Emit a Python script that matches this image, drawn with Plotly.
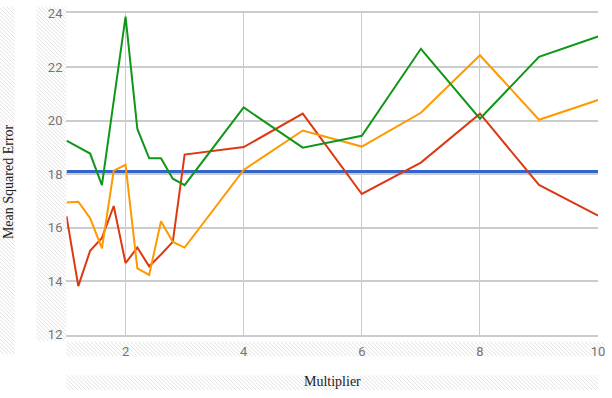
import plotly.graph_objects as go

# multiplier values (shared by most series)
multiplier = [1, 1.2, 1.4, 1.6, 1.8, 2, 2.2, 2.4, 2.6, 2.8, 3, 4, 5, 6, 7, 8, 9, 10]
green_multiplier = [1, 1.4, 1.6, 2, 2.2, 2.4, 2.6, 2.8, 3, 4, 5, 6, 7, 8, 9, 10]

baseline = [18.1, 18.1, 18.1, 18.1, 18.1, 18.1, 18.1, 18.1, 18.1,
            18.1, 18.1, 18.1, 18.1, 18.1, 18.1, 18.1, 18.1, 18.1]
red = [16.43, 13.82, 15.14, 15.62, 16.81, 14.68, 15.26, 14.56, 15.0,
       15.47, 18.73, 19.01, 20.26, 17.26, 18.43, 20.26, 17.6, 16.45]
orange = [16.94, 16.97, 16.36, 15.23, 18.13, 18.35, 14.48, 14.24, 16.24,
          15.47, 15.26, 18.16, 19.63, 19.03, 20.29, 22.44, 20.03, 20.77]
green = [19.25, 18.77, 17.59, 23.88, 19.69, 18.59, 18.59, 17.83, 17.59,
         20.49, 18.99, 19.43, 22.68, 20.07, 22.38, 23.14]

x_ticks = [2, 4, 6, 8, 10]
y_ticks = [12, 14, 16, 18, 20, 22, 24]

W, H = 612, 398


def hatch(x0, y0, x1, y1, step=4):
    # diagonal hatching inside a pixel rectangle, returned as a paper path
    parts = []
    c = x0 - y1
    while c <= x1 - y0:
        lo = max(y0, x0 - c)
        hi = min(y1, x1 - c)
        if lo < hi:
            parts.append(
                f"M{(lo + c) / W:.4f},{1 - lo / H:.4f}L{(hi + c) / W:.4f},{1 - hi / H:.4f}"
            )
        c += step
    return dict(
        type="path",
        xref="paper",
        yref="paper",
        path="".join(parts),
        line=dict(color="#e2e2e2", width=1),
        layer="below",
    )


fig = go.Figure()
fig.add_trace(go.Scatter(x=multiplier, y=baseline, mode="lines",
                         line=dict(color="#3366cc", width=3)))
fig.add_trace(go.Scatter(x=multiplier, y=red, mode="lines",
                         line=dict(color="#dc3912", width=2)))
fig.add_trace(go.Scatter(x=multiplier, y=orange, mode="lines",
                         line=dict(color="#ff9900", width=2)))
fig.add_trace(go.Scatter(x=green_multiplier, y=green, mode="lines",
                         line=dict(color="#109618", width=2)))

shapes = [
    hatch(0, 0, 15, 361),
    hatch(37, 0, 67, 347),
    hatch(67, 348, 612, 363),
    hatch(67, 383, 605, 398),
]

fig.update_layout(
    width=W,
    height=H,
    margin=dict(l=0, r=0, t=0, b=0),
    paper_bgcolor="white",
    plot_bgcolor="white",
    showlegend=False,
    shapes=shapes,
    xaxis=dict(
        domain=[67.25 / W, 605 / W],
        range=[1, 10],
        tickvals=x_ticks,
        showgrid=True,
        gridcolor="#cccccc",
        gridwidth=1,
        showline=True,
        mirror=True,
        linecolor="#cccccc",
        linewidth=2,
        zeroline=False,
        ticks="",
        ticklabelstandoff=4,
        ticklabeloverflow="allow",
        tickfont=dict(family="Roboto", size=13, color="#757575"),
    ),
    yaxis=dict(
        domain=[1 - 340.7 / H, 1 - 6.7 / H],
        range=[12, 24],
        tickvals=y_ticks,
        showgrid=True,
        gridcolor="#cccccc",
        gridwidth=2,
        showline=False,
        zeroline=False,
        ticks="",
        ticklabelstandoff=3,
        ticklabeloverflow="allow",
        tickfont=dict(family="Roboto", size=13, color="#757575"),
    ),
    annotations=[
        dict(text="Mean Squared Error", xref="paper", yref="paper",
             x=8 / W, y=1 - 181 / H, xanchor="center", yanchor="middle",
             showarrow=False, textangle=-90,
             font=dict(family="Liberation Serif", size=14, color="#222222")),
        dict(text="Multiplier", xref="paper", yref="paper",
             x=336 / W, y=1 - 389 / H, xanchor="center", yanchor="middle",
             showarrow=False,
             font=dict(family="Liberation Serif", size=14, color="#222222")),
    ],
)

page_fix = (
    "document.body.style.margin='0';"
    "document.body.style.overflow='hidden';"
    "document.documentElement.style.overflow='hidden';"
    "var d=document.getElementById('{plot_id}');d.style.overflow='hidden';"
)
fig.write_html("out.html", post_script=page_fix,
               config={"displayModeBar": False})
